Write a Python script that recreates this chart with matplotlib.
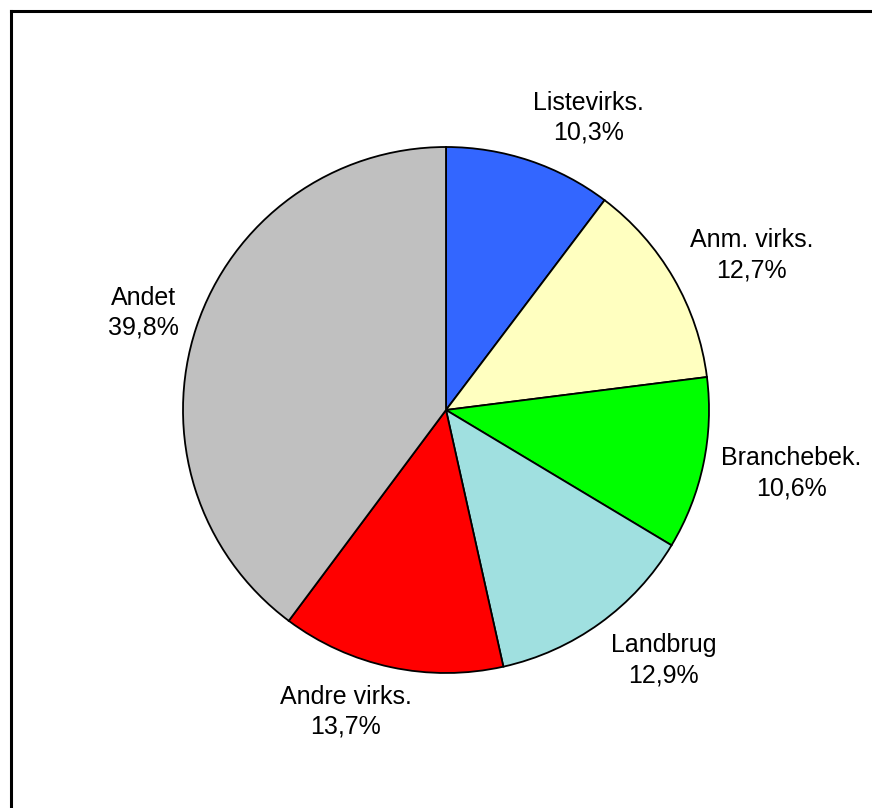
import matplotlib
matplotlib.use("Agg")
import numpy as np
import matplotlib.pyplot as plt
from matplotlib.lines import Line2D

categories = ["Listevirks.", "Anm. virks.", "Branchebek.", "Landbrug", "Andre virks.", "Andet"]
values = [10.3, 12.7, 10.6, 12.9, 13.7, 39.8]
colors = ["#3366FF", "#FFFFC0", "#00FF00", "#A0E0E0", "#FF0000", "#C0C0C0"]

plt.rcParams['font.family'] = ['Liberation Sans', 'DejaVu Sans']

W, H = 872, 808
fig = plt.figure(figsize=(W / 100, H / 100), dpi=100)
fig.patch.set_facecolor("white")

cx, cy, r = 446, 410, 263
ax = fig.add_axes([(cx - r) / W, (H - cy - r) / H, 2 * r / W, 2 * r / H])

wedges, _ = ax.pie(values, colors=colors, startangle=90, counterclock=False, radius=1,
                   wedgeprops=dict(edgecolor="black", linewidth=1.3))

ax.set_xlim(-1, 1)
ax.set_ylim(-1, 1)
ax.set_aspect("equal")
ax.axis("off")

labels = [f"{c}\n{str(v).replace('.', ',')}%" for c, v in zip(categories, values)]
label_r = 1.07
renderer = fig.canvas.get_renderer()
px_per_unit = r  # axes spans 2r pixels for 2 data units
for w, lab in zip(wedges, labels):
    mid = np.deg2rad((w.theta1 + w.theta2) / 2)
    c, s = np.cos(mid), np.sin(mid)
    t = ax.text(0, 0, lab, ha="left", va="bottom", multialignment="center",
                fontsize=18, color="black", clip_on=False, linespacing=1.32)
    bb = t.get_window_extent(renderer)
    wd, hd = bb.width / px_per_unit, bb.height / px_per_unit
    f = np.clip(0.5 - 1.5 * c, 0, 1)
    g = np.clip(0.5 - 0.5 * s, 0, 1)
    t.set_position((label_r * c - f * wd, label_r * s - g * hd))

# outer border (top and left edges visible)
fig.add_artist(Line2D([11 / W, 1], [1 - 11 / H, 1 - 11 / H], color="black", lw=2.2,
                      transform=fig.transFigure))
fig.add_artist(Line2D([11 / W, 11 / W], [0, 1 - 11 / H], color="black", lw=2.2,
                      transform=fig.transFigure))

fig.savefig("out.png", dpi=100, facecolor="white")
